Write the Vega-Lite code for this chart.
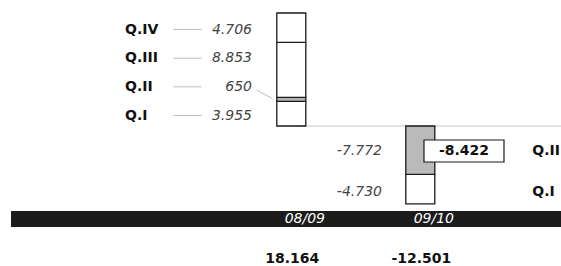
{
  "$schema": "https://vega.github.io/schema/vega-lite/v6.json",
  "padding": {"left": 11, "top": 0, "right": 0, "bottom": 0},
  "spacing": 0,
  "bounds": "flush",
  "background": "white",
  "datasets": {
    "quarters": [
      {"period": "08/09", "quarter": "Q.I", "value": 3955},
      {"period": "08/09", "quarter": "Q.II", "value": 650},
      {"period": "08/09", "quarter": "Q.III", "value": 8853},
      {"period": "08/09", "quarter": "Q.IV", "value": 4706},
      {"period": "09/10", "quarter": "Q.I", "value": -4730},
      {"period": "09/10", "quarter": "Q.II", "value": -7772}
    ],
    "totals": [
      {"period": "08/09", "total": 18164},
      {"period": "09/10", "total": -12501}
    ],
    "change": [
      {"period": "09/10", "quarter": "Q.II", "change": -8422}
    ]
  },
  "vconcat": [
    {
      "width": 550,
      "height": 211,
      "layer": [
        {
          "data": {"values": [{}]},
          "mark": {"type": "rule", "color": "#c8c8c8", "strokeWidth": 1, "x2Offset": 141},
          "encoding": {
            "x": {"datum": "08/09", "type": "nominal", "scale": {"type": "point", "domain": ["08/09", "09/10"], "range": [280.3, 409.3], "padding": 0}, "axis": null},
            "x2": {"datum": "09/10"},
            "y": {"datum": 0, "type": "quantitative", "scale": {"domain": [-13663, 20254], "nice": false, "zero": false}, "axis": null}
          }
        },
        {
          "data": {"name": "quarters"},
          "transform": [{"filter": "datum.period === '08/09'"}],
          "mark": {"type": "bar", "width": 29, "stroke": "#1a1a1a", "strokeWidth": 1.3},
          "encoding": {
            "x": {"field": "period", "type": "nominal", "scale": {"type": "point", "domain": ["08/09", "09/10"], "range": [280.3, 409.3], "padding": 0}, "axis": null},
            "y": {"field": "value", "type": "quantitative", "stack": "zero", "scale": {"domain": [-13663, 20254], "nice": false, "zero": false}, "axis": null},
            "order": {"field": "quarter", "sort": "ascending"},
            "fill": {"condition": {"test": "datum.quarter === 'Q.II'", "value": "#b3b3b3"}, "value": "#ffffff"}
          }
        },
        {
          "data": {"name": "quarters"},
          "transform": [{"filter": "datum.period === '09/10'"}],
          "mark": {"type": "bar", "width": 29, "stroke": "#1a1a1a", "strokeWidth": 1.3},
          "encoding": {
            "x": {"field": "period", "type": "nominal", "scale": {"type": "point", "domain": ["08/09", "09/10"], "range": [280.3, 409.3], "padding": 0}, "axis": null},
            "y": {"field": "value", "type": "quantitative", "stack": "zero", "scale": {"domain": [-13663, 20254], "nice": false, "zero": false}, "axis": null},
            "order": {"field": "quarter", "sort": "descending"},
            "fill": {"condition": {"test": "datum.quarter === 'Q.II'", "value": "#bababa"}, "value": "#ffffff"}
          }
        },
        {
          "data": {"name": "quarters"},
          "transform": [{"filter": "datum.period === '08/09'"}],
          "mark": {"type": "rule", "color": "#bdbdbd", "strokeWidth": 1, "xOffset": -118, "x2Offset": -89.6},
          "encoding": {
            "x": {"field": "period", "type": "nominal", "scale": {"type": "point", "domain": ["08/09", "09/10"], "range": [280.3, 409.3], "padding": 0}, "axis": null},
            "x2": {"field": "period"},
            "y": {"field": "quarter", "type": "nominal", "scale": {"type": "point", "domain": ["Q.IV", "Q.III", "Q.II", "Q.I"], "range": [29.5, 115.5], "padding": 0}, "axis": null}
          }
        },
        {
          "data": {"name": "quarters"},
          "transform": [{"filter": "datum.period === '08/09' && datum.quarter === 'Q.II'"}],
          "mark": {"type": "rule", "color": "#bdbdbd", "strokeWidth": 1, "xOffset": -34.6, "x2Offset": -19.6, "yOffset": 3.2, "y2Offset": 11.5},
          "encoding": {
            "x": {"field": "period", "type": "nominal", "scale": {"type": "point", "domain": ["08/09", "09/10"], "range": [280.3, 409.3], "padding": 0}, "axis": null},
            "x2": {"field": "period"},
            "y": {"field": "quarter", "type": "nominal", "scale": {"type": "point", "domain": ["Q.IV", "Q.III", "Q.II", "Q.I"], "range": [29.5, 115.5], "padding": 0}, "axis": null},
            "y2": {"field": "quarter"}
          }
        },
        {
          "data": {"name": "quarters"},
          "transform": [{"filter": "datum.period === '08/09'"}],
          "mark": {"type": "text", "align": "left", "baseline": "middle", "dx": -166.3, "font": "DejaVu Sans", "fontSize": 14, "fontWeight": "bold", "color": "#111111"},
          "encoding": {
            "x": {"field": "period", "type": "nominal", "scale": {"type": "point", "domain": ["08/09", "09/10"], "range": [280.3, 409.3], "padding": 0}, "axis": null},
            "y": {"field": "quarter", "type": "nominal", "scale": {"type": "point", "domain": ["Q.IV", "Q.III", "Q.II", "Q.I"], "range": [29.5, 115.5], "padding": 0}, "axis": null},
            "text": {"field": "quarter"}
          }
        },
        {
          "data": {"name": "quarters"},
          "transform": [{"filter": "datum.period === '08/09'"}],
          "mark": {"type": "text", "align": "right", "baseline": "middle", "dx": -39.3, "font": "DejaVu Sans", "fontSize": 14, "fontStyle": "italic", "color": "#444444"},
          "encoding": {
            "x": {"field": "period", "type": "nominal", "scale": {"type": "point", "domain": ["08/09", "09/10"], "range": [280.3, 409.3], "padding": 0}, "axis": null},
            "y": {"field": "quarter", "type": "nominal", "scale": {"type": "point", "domain": ["Q.IV", "Q.III", "Q.II", "Q.I"], "range": [29.5, 115.5], "padding": 0}, "axis": null},
            "text": {"field": "value", "format": ",d"}
          }
        },
        {
          "data": {"name": "quarters"},
          "transform": [{"filter": "datum.period === '09/10'"}],
          "mark": {"type": "text", "align": "right", "baseline": "middle", "dx": -38.3, "font": "DejaVu Sans", "fontSize": 14, "fontStyle": "italic", "color": "#444444"},
          "encoding": {
            "x": {"field": "period", "type": "nominal", "scale": {"type": "point", "domain": ["08/09", "09/10"], "range": [280.3, 409.3], "padding": 0}, "axis": null},
            "y": {"field": "quarter", "type": "nominal", "scale": {"type": "point", "domain": ["Q.II", "Q.I"], "range": [151, 191.5], "padding": 0}, "axis": null},
            "text": {"field": "value", "format": ",d"}
          }
        },
        {
          "data": {"name": "quarters"},
          "transform": [{"filter": "datum.period === '09/10'"}],
          "mark": {"type": "text", "align": "left", "baseline": "middle", "dx": 112, "font": "DejaVu Sans", "fontSize": 14, "fontWeight": "bold", "color": "#111111"},
          "encoding": {
            "x": {"field": "period", "type": "nominal", "scale": {"type": "point", "domain": ["08/09", "09/10"], "range": [280.3, 409.3], "padding": 0}, "axis": null},
            "y": {"field": "quarter", "type": "nominal", "scale": {"type": "point", "domain": ["Q.II", "Q.I"], "range": [151, 191.5], "padding": 0}, "axis": null},
            "text": {"field": "quarter"}
          }
        },
        {
          "data": {"name": "change"},
          "mark": {"type": "bar", "width": 80, "height": 22, "xOffset": 43.7, "fill": "#ffffff", "stroke": "#1a1a1a", "strokeWidth": 1.2},
          "encoding": {
            "x": {"field": "period", "type": "nominal", "scale": {"type": "point", "domain": ["08/09", "09/10"], "range": [280.3, 409.3], "padding": 0}, "axis": null},
            "y": {"field": "quarter", "type": "nominal", "scale": {"type": "point", "domain": ["Q.II", "Q.I"], "range": [151, 191.5], "padding": 0}, "axis": null}
          }
        },
        {
          "data": {"name": "change"},
          "mark": {"type": "text", "align": "center", "baseline": "middle", "dx": 43.7, "font": "DejaVu Sans", "fontSize": 14, "fontWeight": "bold", "color": "#111111"},
          "encoding": {
            "x": {"field": "period", "type": "nominal", "scale": {"type": "point", "domain": ["08/09", "09/10"], "range": [280.3, 409.3], "padding": 0}, "axis": null},
            "y": {"field": "quarter", "type": "nominal", "scale": {"type": "point", "domain": ["Q.II", "Q.I"], "range": [151, 191.5], "padding": 0}, "axis": null},
            "text": {"field": "change", "format": ",d"}
          }
        }
      ],
      "resolve": {"scale": {"y": "independent"}}
    },
    {
      "width": 550,
      "height": 16,
      "view": {"fill": "#1c1c1c", "stroke": null},
      "data": {"name": "totals"},
      "mark": {"type": "text", "align": "center", "baseline": "middle", "dx": 13.5, "font": "DejaVu Sans", "fontSize": 14, "fontStyle": "italic", "color": "#ffffff"},
      "encoding": {
        "x": {"field": "period", "type": "nominal", "scale": {"type": "point", "domain": ["08/09", "09/10"], "range": [280.3, 409.3], "padding": 0}, "axis": null},
        "text": {"field": "period"}
      }
    },
    {
      "width": 550,
      "height": 39,
      "data": {"name": "totals"},
      "mark": {"type": "text", "align": "center", "baseline": "alphabetic", "dy": 16.5, "dx": 1, "font": "DejaVu Sans", "fontSize": 14, "fontWeight": "bold", "color": "#111111"},
      "encoding": {
        "x": {"field": "period", "type": "nominal", "scale": {"type": "point", "domain": ["08/09", "09/10"], "range": [280.3, 409.3], "padding": 0}, "axis": null},
        "text": {"field": "total", "format": ",d"}
      }
    }
  ],
  "config": {
    "view": {"stroke": null},
    "font": "DejaVu Sans",
    "locale": {"number": {"decimal": ",", "thousands": ".", "grouping": [3], "currency": ["", ""], "minus": "-"}}
  }
}
